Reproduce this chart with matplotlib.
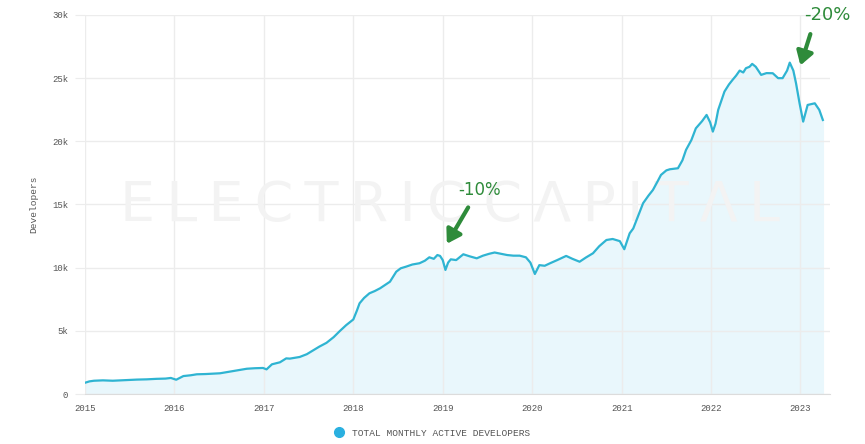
import matplotlib.pyplot as plt
import numpy as np

# decimal year, total monthly active developers (thousands)
years = [
    2015.00, 2015.05, 2015.10, 2015.20, 2015.31, 2015.45, 2015.58, 2015.69, 2015.80, 2015.90,
    2015.96, 2016.02, 2016.10, 2016.18, 2016.25, 2016.35, 2016.45, 2016.51, 2016.62, 2016.72,
    2016.81, 2016.90, 2016.99, 2017.03, 2017.09, 2017.18, 2017.25, 2017.29, 2017.40, 2017.48,
    2017.55, 2017.62, 2017.70, 2017.78, 2017.85, 2017.92, 2018.00, 2018.04, 2018.07, 2018.12,
    2018.18, 2018.24, 2018.30, 2018.36, 2018.41, 2018.48, 2018.53, 2018.59, 2018.66, 2018.74,
    2018.80, 2018.85, 2018.90, 2018.94, 2018.97, 2019.00, 2019.03, 2019.06, 2019.09, 2019.15,
    2019.23, 2019.30, 2019.38, 2019.45, 2019.52, 2019.58, 2019.65, 2019.72, 2019.79, 2019.86,
    2019.93, 2019.98, 2020.03, 2020.08, 2020.14, 2020.20, 2020.28, 2020.38, 2020.45, 2020.53,
    2020.60, 2020.68, 2020.75, 2020.83, 2020.90, 2020.98, 2021.03, 2021.09, 2021.13, 2021.18,
    2021.24, 2021.30, 2021.35, 2021.40, 2021.44, 2021.50, 2021.54, 2021.63, 2021.68, 2021.72,
    2021.78, 2021.83, 2021.90, 2021.95, 2021.99, 2022.02, 2022.05, 2022.08, 2022.15, 2022.20,
    2022.24, 2022.28, 2022.32, 2022.36, 2022.39, 2022.43, 2022.46, 2022.50, 2022.56, 2022.62,
    2022.69, 2022.75, 2022.80, 2022.85, 2022.88, 2022.92, 2022.95, 2022.99, 2023.03, 2023.08,
    2023.16, 2023.21, 2023.25,
]
devs_k = [
    0.89, 1.00, 1.05, 1.08, 1.05, 1.10, 1.14, 1.16, 1.20, 1.22,
    1.27, 1.13, 1.42, 1.48, 1.56, 1.58, 1.62, 1.64, 1.77, 1.88,
    2.00, 2.04, 2.06, 1.95, 2.35, 2.51, 2.82, 2.80, 2.93, 3.15,
    3.45, 3.75, 4.05, 4.50, 4.99, 5.45, 5.90, 6.60, 7.18, 7.60,
    7.97, 8.15, 8.37, 8.65, 8.89, 9.68, 9.95, 10.08, 10.25, 10.35,
    10.55, 10.82, 10.70, 11.00, 10.93, 10.60, 9.82, 10.40, 10.66, 10.60,
    11.06, 10.90, 10.74, 10.95, 11.10, 11.20, 11.10, 11.00, 10.95, 10.95,
    10.82, 10.40, 9.50, 10.20, 10.15, 10.35, 10.60, 10.93, 10.70, 10.47,
    10.80, 11.14, 11.70, 12.19, 12.27, 12.10, 11.46, 12.72, 13.10, 14.00,
    15.10, 15.70, 16.15, 16.80, 17.34, 17.70, 17.79, 17.87, 18.50, 19.32,
    20.10, 21.03, 21.60, 22.09, 21.50, 20.77, 21.40, 22.49, 23.94, 24.50,
    24.86, 25.20, 25.60, 25.45, 25.79, 25.90, 26.13, 25.90, 25.26, 25.40,
    25.39, 25.00, 25.00, 25.60, 26.23, 25.60, 24.60, 23.00, 21.56, 22.88,
    23.01, 22.49, 21.69,
]
devs = np.array(devs_k) * 1000

year_ticks = list(range(2015, 2024))
y_ticks = [0, 5000, 10000, 15000, 20000, 25000, 30000]
y_labels = ['0', '5k', '10k', '15k', '20k', '25k', '30k']

mono = 'Liberation Mono'
line_col = '#2fb4d2'
fill_col = '#e9f7fc'
grid_col = '#ececec'
text_col = '#555555'
green = '#2e8b3a'

fig = plt.figure(figsize=(8.65, 4.44), dpi=100)
ax = fig.add_axes([85 / 865, 1 - 394 / 444, (830 - 85) / 865, (394 - 15) / 444])

ax.fill_between(years, devs, 0, color=fill_col, zorder=1)
ax.plot(years, devs, color=line_col, lw=1.6, zorder=3, label='TOTAL MONTHLY ACTIVE DEVELOPERS')

ax.set_xlim(2015, 2023.33)
ax.set_ylim(0, 30000)
ax.set_xticks(year_ticks)
ax.set_xticklabels([str(y) for y in year_ticks])
ax.set_yticks(y_ticks)
ax.set_yticklabels(y_labels)
ax.grid(True, color=grid_col, lw=1, zorder=0)
for s in ['top', 'right', 'left']:
    ax.spines[s].set_visible(False)
ax.spines['bottom'].set_color('#dcdcdc')
ax.tick_params(axis='y', length=7, color=grid_col, pad=5, labelsize=6.5, labelcolor=text_col)
ax.tick_params(axis='x', length=0, pad=7, labelsize=6.5, labelcolor=text_col)
for lab in ax.get_xticklabels() + ax.get_yticklabels():
    lab.set_fontfamily(mono)
ax.set_ylabel('Developers', fontsize=6.8, color=text_col, family=mono, labelpad=10)

# watermark, letter-spaced with thin spaces
wm = '\u2009'.join('ELECTRIC') + ' ' + '\u2009'.join('CΛPITΛL')
ax.text(0.49, 0.495, wm, transform=ax.transAxes, ha='center', va='center',
        fontsize=40, color='#f3f3f3', zorder=2, family='DejaVu Sans')

# hand-drawn style annotations
ax.annotate('', xy=(2019.03, 11700), xytext=(2019.30, 14960),
            arrowprops=dict(arrowstyle='-|>,head_width=0.5,head_length=0.8', color=green, lw=3),
            zorder=5)
ax.text(2019.41, 16150, '-10%', ha='center', va='center', fontsize=12, color=green, zorder=5)
ax.annotate('', xy=(2022.99, 25800), xytext=(2023.12, 28700),
            arrowprops=dict(arrowstyle='-|>,head_width=0.5,head_length=0.8', color=green, lw=3),
            zorder=5)
ax.text(2023.30, 30000, '-20%', ha='center', va='center', fontsize=13, color=green,
        zorder=5, clip_on=False)

leg = fig.legend(handles=[plt.Line2D([], [], marker='o', ls='none', color='#2ab0e0', markersize=7)],
                 labels=['TOTAL MONTHLY ACTIVE DEVELOPERS'], loc='center', bbox_to_anchor=(430 / 865, 1 - 433 / 444),
                 frameon=False, handletextpad=0.3, prop={'family': mono, 'size': 6.8})
for t in leg.get_texts():
    t.set_color(text_col)

fig.savefig('out.png', dpi=100)
